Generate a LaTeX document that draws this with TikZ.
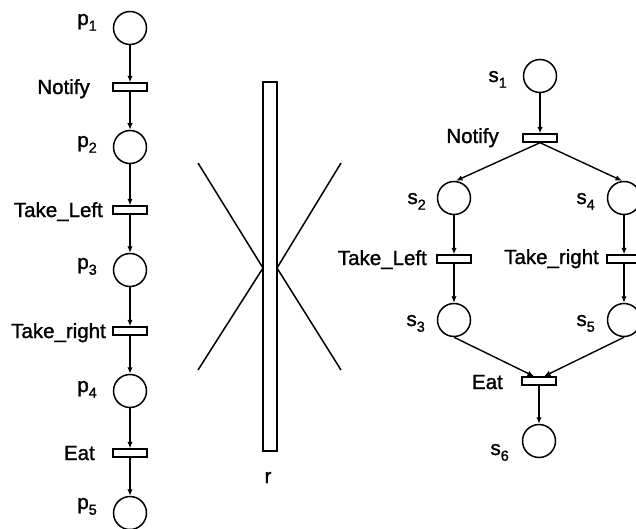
\documentclass[tikz,border=0pt]{standalone}
\usepackage{fontspec}
\setmainfont{Liberation Sans}
\newfontfamily\lblfont{Liberation Sans}[FakeBold=1.3]
\usetikzlibrary{arrows.meta}
\newcommand\sbs[1]{\raisebox{-0.28em}{\fontsize{14.5}{14.5}\selectfont #1}}
\begin{document}
\begin{tikzpicture}[x=1pt,y=-1pt,
  place/.style={draw,circle,line width=1.5pt,minimum size=33pt,inner sep=0pt},
  trans/.style={draw,rectangle,line width=1.4pt,minimum width=34pt,minimum height=8pt,inner sep=0pt},
  lbl/.style={anchor=base east,inner sep=0pt,font=\lblfont\fontsize{20.5}{22}\selectfont},
  arc/.style={line width=1.4pt,-{Latex[length=6.5pt,width=5.5pt]}},
  bar/.style={line width=1.5pt}]
\useasboundingbox (0,0) rectangle (636,529);
\fill[white] (0,0) rectangle (636,529);
% ---------- left net ----------
\node[place] (p1) at (130,28) {};
\node[trans] (t1) at (130,87) {};
\node[place] (p2) at (130,147) {};
\node[trans] (t2) at (130,210) {};
\node[place] (p3) at (130,270) {};
\node[trans] (t3) at (130,331) {};
\node[place] (p4) at (130,391) {};
\node[trans] (t4) at (130,453) {};
\node[place] (p5) at (130,513) {};
\node[lbl] (lp1) at (97,25) {p\sbs{1}};
\node[lbl] (lp2) at (97,147) {p\sbs{2}};
\node[lbl] (lp3) at (97,269) {p\sbs{3}};
\node[lbl] (lp4) at (97,392) {p\sbs{4}};
\node[lbl] (lp5) at (97,509) {p\sbs{5}};
\node[lbl] (lt1) at (90,94) {Notify};
\node[lbl] (lt2) at (103,217) {Take\_Left};
\node[lbl] (lt3) at (106,338) {Take\_right};
\node[lbl] (lt4) at (95,460) {Eat};
\draw[arc] (p1.south) -- (t1.north);
\draw[arc] (t1.south) -- (p2.north);
\draw[arc] (p2.south) -- (t2.north);
\draw[arc] (t2.south) -- (p3.north);
\draw[arc] (p3.south) -- (t3.north);
\draw[arc] (t3.south) -- (p4.north);
\draw[arc] (p4.south) -- (t4.north);
\draw[arc] (t4.south) -- (p5.north);
% ---------- middle ----------
\draw[bar] (263,82) rectangle (277,451);
\coordinate (xl) at (263,268);
\coordinate (xr) at (277,268);
\coordinate (xa) at (198,163);
\coordinate (xb) at (198,370);
\coordinate (xc) at (341,163);
\coordinate (xd) at (341,370);
\draw[bar] (xa) -- (xl) -- (xb);
\draw[bar] (xc) -- (xr) -- (xd);
\node[anchor=base,inner sep=0pt,font=\lblfont\fontsize{20.5}{22}\selectfont] (rl) at (268,483) {r};
% ---------- right net ----------
\node[place] (s1) at (540,76) {};
\node[trans] (u1) at (540,138) {};
\node[place] (s2) at (454,198) {};
\node[place] (s4) at (624,198) {};
\node[trans] (u2) at (454,259) {};
\node[trans] (u3) at (624,259) {};
\node[place] (s3) at (454,320) {};
\node[place] (s5) at (624,320) {};
\node[trans] (u4) at (539,381) {};
\node[place] (s6) at (539,441) {};
\node[lbl] (ls1) at (507,82) {s\sbs{1}};
\node[lbl] (ls2) at (426,204) {s\sbs{2}};
\node[lbl] (ls4) at (595,204) {s\sbs{4}};
\node[lbl] (ls3) at (425,326) {s\sbs{3}};
\node[lbl] (ls5) at (595,326) {s\sbs{5}};
\node[lbl] (ls6) at (509,455) {s\sbs{6}};
\node[lbl] (lu1) at (499,143) {Notify};
\node[lbl] (lu2) at (427,265) {Take\_Left};
\node[lbl] (lu3) at (599,264) {Take\_right};
\node[lbl] (lu4) at (503,389) {Eat};
\draw[arc] (s1.south) -- (u1.north);
\draw[arc] (u1.south) -- ([xshift=2pt]s2.north);
\draw[arc] (u1.south) -- ([xshift=-2pt]s4.north);
\draw[arc] (s2.south) -- (u2.north);
\draw[arc] (u2.south) -- (s3.north);
\draw[arc] (s4.south) -- (u3.north);
\draw[arc] (u3.south) -- (s5.north);
\draw[arc] (s3.south) -- ([xshift=-5pt]u4.north);
\draw[arc] (s5.south) -- ([xshift=5pt]u4.north);
\draw[arc] (u4.south) -- (s6.north);
\end{tikzpicture}
\end{document}
